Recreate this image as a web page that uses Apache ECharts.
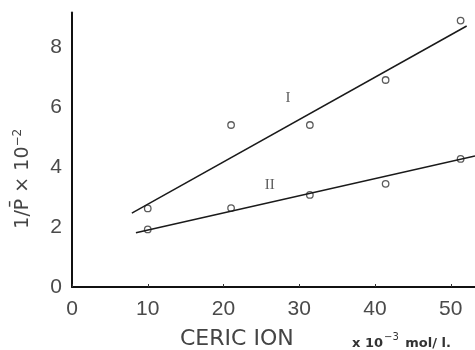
<!DOCTYPE html>
<html>
<head>
<meta charset="utf-8">
<script src="https://cdn.jsdelivr.net/npm/echarts@6/dist/echarts.min.js"></script>
<style>
  html, body { margin: 0; padding: 0; background: #fff; }
  #chart { width: 475px; height: 350px; }
</style>
</head>
<body>
<div id="chart"></div>
<script>
// Ceric ion concentration (x10^-3 mol/l)
const conc = [10.0, 21.0, 31.4, 41.4, 51.3];
// 1/P x 10^-2 measured for the two curves
const curveI = [2.62, 5.4, 5.4, 6.9, 8.88];
const curveII = [1.92, 2.63, 3.07, 3.44, 4.27];
// straight-line fits (end points)
const fitIX = [7.9, 52.1];
const fitIY = [2.46, 8.7];
const fitIIX = [8.44, 53.2];
const fitIIY = [1.81, 4.37];
// tick labels
const xTicks = [0, 10, 20, 30, 40, 50];
const yTicks = [0, 2, 4, 6, 8];
// curve names and where they are written
const curveNames = ['I', 'II'];
const curveNameX = [28.5, 26.1];
const curveNameY = [6.29, 3.4];

const pairs = (xs, ys) => xs.map((x, i) => [x, ys[i]]);

const chart = echarts.init(document.getElementById('chart'), null, { renderer: 'canvas' });

const tickFont = { fontFamily: 'Liberation Sans', fontSize: 21, color: '#4a4a4a' };

chart.setOption({
  animation: false,
  backgroundColor: '#fff',
  grid: { left: 72, right: 0, top: 12.5, bottom: 63 },
  title: [
    {
      left: 180, top: 328, padding: 0,
      text: 'CERIC ION',
      textStyle: { fontFamily: 'DejaVu Sans', fontSize: 22, fontWeight: 'normal', color: '#444' }
    },
    {
      left: 352, top: 331, padding: 0,
      text: '{b|x 10}{s|−3}{b| mol/ l.}',
      textStyle: {
        rich: {
          b: { fontFamily: 'DejaVu Sans', fontSize: 13, fontWeight: 'bold', color: '#333', padding: [6, 0, 0, 0] },
          s: { fontFamily: 'DejaVu Sans', fontSize: 10, fontWeight: 'normal', color: '#333', padding: [0, 2, 6, 1] }
        }
      }
    }
  ],
  xAxis: {
    type: 'value', min: 0, max: 53.2,
    axisLine: { lineStyle: { color: '#111', width: 2 } },
    axisTick: { show: true, inside: true, length: 3, customValues: xTicks, lineStyle: { color: '#333' } },
    axisLabel: Object.assign({ margin: 12, customValues: xTicks }, tickFont),
    splitLine: { show: false }
  },
  yAxis: {
    type: 'value', min: 0, max: 9.15,
    name: '{a|1/P̄ × 10}{s|−2}',
    nameLocation: 'middle', nameRotate: 90, nameGap: 38,
    nameTextStyle: {
      padding: [0, 58, 0, 0],
      rich: {
        a: { fontFamily: 'DejaVu Sans', fontSize: 19, color: '#444' },
        s: { fontFamily: 'DejaVu Sans', fontSize: 12, color: '#444', padding: [0, 0, 10, 0] }
      }
    },
    axisLine: { lineStyle: { color: '#111', width: 2 } },
    axisTick: { show: false },
    axisLabel: Object.assign({ margin: 10, customValues: yTicks }, tickFont),
    splitLine: { show: false }
  },
  series: [
    {
      type: 'line', data: pairs(fitIX, fitIY), showSymbol: false, silent: true,
      lineStyle: { color: '#1a1a1a', width: 1.5 }
    },
    {
      type: 'line', data: pairs(fitIIX, fitIIY), showSymbol: false, silent: true,
      lineStyle: { color: '#1a1a1a', width: 1.5 }
    },
    {
      type: 'scatter', data: pairs(conc, curveI), symbol: 'circle', symbolSize: 6.5,
      itemStyle: { color: '#fff', borderColor: '#333', borderWidth: 1.3 }
    },
    {
      type: 'scatter', data: pairs(conc, curveII), symbol: 'circle', symbolSize: 6.5,
      itemStyle: { color: '#fff', borderColor: '#333', borderWidth: 1.3 }
    },
    {
      type: 'scatter', symbolSize: 0, silent: true,
      data: curveNames.map((n, i) => ({ value: [curveNameX[i], curveNameY[i]], name: n })),
      label: {
        show: true, position: 'inside', formatter: p => p.name,
        fontFamily: 'Liberation Serif', fontSize: 15, color: '#333'
      }
    }
  ]
});
</script>
</body>
</html>
